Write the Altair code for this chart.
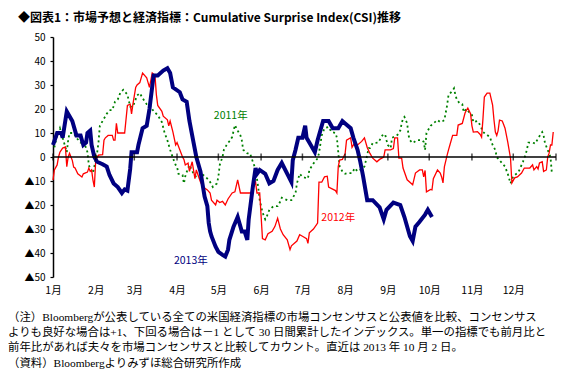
import altair as alt
import pandas as pd

# ---------------- data ----------------
month_labels = ["1月", "2月", "3月", "4月", "5月", "6月", "7月", "8月", "9月", "10月", "11月", "12月"]
month_start = [0, 31, 59, 90, 120, 151, 181, 212, 243, 273, 304, 334]
year_end = 365
y_ticks = [-50, -40, -30, -20, -10, 0, 10, 20, 30, 40, 50]

# 2013 (day of year, CSI)
day_2013 = [0, 3, 6, 7, 10, 14, 17, 20, 22, 24,
            25, 27, 28, 30, 32, 36, 39, 41, 44, 47,
            50, 52, 54, 56, 57, 61, 62, 65, 68, 70,
            73, 76, 80, 83, 85, 87, 92, 94, 97, 99,
            102, 104, 107, 109, 110, 112, 113, 114, 115, 118,
            120, 123, 125, 127, 128, 131, 134, 135, 137, 139,
            141, 142, 144, 145, 147, 148, 150, 154, 157, 160,
            163, 166, 170, 173, 174, 176, 178, 181, 183, 184,
            186, 190, 192, 196, 200, 203, 207, 210, 212, 216,
            218, 221, 223, 225, 228, 232, 237, 240, 242, 247,
            252, 255, 259, 261, 263, 266, 270, 272, 275]
val_2013 = [5, 10, 10, 8, 19, 15, 9, 9, 5, 6,
            10, 11, 5, 0, -2, -3, -4, -7.5, -11, -12.5,
            -15, -13.5, -14, -5, 2, 2, 5, 12, 13, 20,
            34, 34, 36, 37, 35, 29, 27, 24, 23, 15,
            6, 0, -6, -13, -16.5, -20.5, -27.5, -31, -33, -37.4,
            -39.5, -40.8, -41.5, -38.6, -34.5, -29, -25, -27, -31, -31,
            -34.5, -26, -17, -12.5, -4.6, -7, -5.4, -7, -11, -10,
            -5.4, -2.5, -7, -10.4, -1.3, 3, 8, 8, 13, 8,
            6, 2, 7, 15, 15, 12, 12, 15, 14, 12,
            8, 3, -2, -8, -18, -18, -21, -26, -22, -19,
            -20, -25, -33, -35, -29, -27, -24, -22, -25]

# 2012
day_2012 = [0, 1, 3, 4, 5, 7, 9, 10, 11, 12,
            14, 15, 16, 18, 21, 22, 25, 26, 27, 28,
            29, 30, 31, 33, 36, 37, 38, 40, 43, 44,
            45, 46, 47, 52, 54, 56, 57, 58, 60, 61,
            63, 65, 68, 69, 70, 72, 74, 75, 76, 79,
            80, 83, 84, 85, 87, 89, 90, 92, 94, 95,
            96, 98, 99, 101, 103, 104, 107, 109, 112, 114,
            115, 118, 119, 121, 123, 125, 127, 130, 132, 134,
            136, 143, 144, 147, 148, 150, 152, 154, 156, 159,
            161, 163, 165, 167, 170, 172, 173, 177, 179, 181,
            184, 185, 186, 189, 192, 193, 195, 197, 199, 200,
            205, 206, 207, 208, 210, 212, 213, 216, 217, 219,
            221, 224, 226, 228, 230, 232, 235, 237, 240, 241,
            245, 247, 248, 250, 251, 253, 254, 257, 261, 263,
            266, 268, 269, 270, 271, 274, 275, 276, 279, 281,
            282, 283, 284, 286, 287, 288, 290, 293, 294, 297,
            299, 300, 301, 303, 304, 305, 308, 310, 311, 312,
            313, 315, 317, 319, 320, 321, 322, 323, 324, 326,
            327, 328, 330, 332, 333, 335, 337, 340, 342, 346,
            348, 349, 351, 352, 353, 355, 356, 358, 359, 360,
            361, 362, 363]
val_2012 = [-9.6, -5.4, -3.3, 0, 2, 3.7, 4.2, -4, 0, 1.5,
            -1.4, -4.2, -4.6, -7, -8.3, -7, -6.3, -4.6, -6, -5.4,
            -9.6, -12.5, -1.3, 0.8, 1, 7, 8, 9, 9, 7,
            7, 14, 10, 10, 21.5, 22, 18, 22, 29, 30,
            31, 35, 33, 31, 29, 35, 34, 26, 21.5, 19,
            17, 15.5, 13, 15, 10.5, 5, 6, 3, 0, -1,
            -3.3, -2.5, -6, -2, -9, -5.4, -10.4, -12.5, -13.7, -15,
            -18, -20, -18, -19, -18.5, -20, -17.5, -15, -14.5, -9.5,
            -15, -15, -14.5, -10.4, -15, -15, -34, -34.5, -32, -31,
            -29, -25.5, -30, -32.4, -34.5, -38.6, -37, -35, -32.4, -33,
            -34, -36, -31.6, -30, -27.5, -10.5, -10.5, -8.3, -8, -12.5,
            -14, -15, -4, -1.3, -1, 1.5, 7, 8, 4, 6,
            5, 6.5, 8, 4, 1.5, -0.5, -2, -1, 0, 3,
            3, 3.5, 8, 8, -0.5, -0.5, -4.6, -9.5, -11.6, -6.7,
            -5.4, -5.4, -8.3, -5.6, -14.5, -13.5, -13.7, -9, -5.4, -6.7,
            -8.3, -10.8, -4.1, 0.8, 3, 5, 9, 9, 13.3, 14,
            18.3, 19.5, 20.4, 18, 13, 10.4, 10.6, 9.4, 8.3, 16,
            25, 26.6, 26.6, 21.6, 15.4, 10.4, 9, 11, 15.4, 15,
            13.5, 12, 6.2, -0.5, -10.8, -8.7, -8.3, -6.7, -4.6, -4.6,
            -3.3, -5.4, -4, -5, -2.5, -2, -6, -5.4, 0, 1.6,
            5, 5, 10.4]

# 2011
day_2011 = [1, 3, 5, 7, 9, 10, 11, 12, 15, 17,
            20, 22, 25, 26, 27, 29, 32, 33, 34, 36,
            39, 41, 43, 45, 47, 49, 51, 54, 56, 58,
            61, 63, 65, 68, 70, 73, 76, 79, 81, 83,
            85, 87, 89, 90, 91, 94, 95, 96, 98, 99,
            102, 104, 107, 109, 112, 114, 116, 119, 120, 121,
            123, 124, 126, 128, 130, 132, 134, 136, 137, 138,
            141, 143, 145, 147, 148, 149, 150, 152, 154, 155,
            157, 160, 163, 165, 166, 170, 173, 176, 177, 179,
            181, 185, 186, 189, 192, 193, 195, 197, 200, 202,
            205, 206, 207, 208, 210, 212, 214, 217, 219, 221,
            224, 226, 228, 229, 230, 232, 236, 239, 241, 242,
            243, 245, 246, 250, 251, 252, 253, 254, 255, 257,
            258, 259, 261, 264, 268, 269, 270, 271, 274, 276,
            279, 281, 283, 284, 286, 287, 290, 291, 292, 293,
            295, 297, 298, 300, 303, 304, 305, 308, 310, 312,
            315, 317, 319, 321, 322, 328, 330, 332, 334, 337,
            338, 341, 343, 345, 348, 350, 352, 355, 356, 357,
            361, 362]
val_2011 = [4, 9, 12, 8, 4, 2, 7, 10, 10, 8,
            6, 7, 2, -3.3, -5, -6.7, 1.6, 6, 13, 15,
            18, 19.5, 19.5, 23, 24, 27, 28, 26, 21, 21,
            25.6, 26.6, 24.5, 22, 22, 19, 17.5, 14.5, 10, 7,
            3, -0.4, -3.3, -4, -7, -7.5, -11, -8, -4.6, -3.3,
            -7, -8.3, -9, -7.5, -9, -10.4, -12.5, -11, -8.3, -3.3,
            0, 3, 5, 6.6, 8.3, 13.3, 11, 9, 7, 3,
            1.5, 1.5, -2, -5, -9, -13, -18, -23, -26, -25,
            -22, -20.5, -20.5, -18.5, -17, -18, -18, -15, -11, -7,
            -8.3, -9, -5.4, -2.7, -0.6, 1.5, 9, 12, 12.5, 10.4,
            10, 8, 2, -4, -6, -7, -6.7, -6.7, -4.6, -6,
            -5, -4, 0.8, 3.7, 3.7, 5.8, 6, 9, 9.5, 7,
            5, 3.7, 8, 9.2, 10.4, 11, 14, 16, 16.7, 14,
            9, 7, 5.8, 7, 7, 6.3, 2.9, 10, 13, 14,
            15.4, 14.5, 15, 15.4, 21.6, 25.8, 27.7, 28.6, 25.8, 24,
            22.4, 22, 18.7, 20, 18, 17.5, 14.5, 15, 13.3, 10.4,
            9.2, 8.3, 5, 2.9, 0, -4, -7, -11, -8, -6.7,
            -6, -2, 1, 6, 6, 5.6, 7.8, 10.4, 9, 5.8,
            0, -6.7]

series_labels = ["2011年", "2012年", "2013年"]
series_label_day = [129, 207, 100]
series_label_val = [17, -25.4, -43.2]
series_colors = ["#008000", "#FF0000", "#000080"]

title_text = "◆図表1：市場予想と経済指標：Cumulative Surprise Index(CSI)推移"
note_lines = [
    "（注）Bloombergが公表している全ての米国経済指標の市場コンセンサスと公表値を比較、コンセンサス",
    "よりも良好な場合は+1、下回る場合は－1 として 30 日間累計したインデックス。単一の指標でも前月比と",
    "前年比があれば夫々を市場コンセンサスと比較してカウント。直近は 2013 年 10 月 2 日。",
    "（資料）Bloombergよりみずほ総合研究所作成",
]

# ---------------- chart ----------------
JP = "Noto Sans CJK JP"
SERIF = "'Liberation Serif', 'Noto Sans CJK JP'"

W, H = 503, 240

x_scale = alt.Scale(domain=[0, year_end], nice=False, zero=False)
y_scale = alt.Scale(domain=[-50, 50], nice=False, zero=False)

label_arr = "[" + ",".join("'%s'" % m for m in month_labels) + "]"
start_arr = "[" + ",".join(str(s) for s in month_start) + "]"
x_axis = alt.Axis(
    values=month_start,
    labelExpr=f"{label_arr}[indexof({start_arr}, datum.value)]",
    domain=False, ticks=False, grid=False, title=None,
    labelFont=JP, labelFontSize=10.5, labelColor="black",
    labelPadding=8, labelFlush=False, labelOverlap=False,
)
y_axis = alt.Axis(
    values=y_ticks,
    labelExpr="datum.value < 0 ? '▲' + abs(datum.value) : '' + datum.value",
    domain=True, domainColor="black", domainWidth=1.5,
    ticks=True, tickColor="black", tickSize=3, tickWidth=1.2,
    grid=False, title=None,
    labelFont=JP, labelFontSize=10, labelColor="black",
    labelPadding=5, labelFlush=False, labelOverlap=False,
)

X = alt.X("day:Q", scale=x_scale, axis=x_axis)
Y = alt.Y("value:Q", scale=y_scale, axis=y_axis)

df11 = pd.DataFrame({"day": day_2011, "value": val_2011})
df12 = pd.DataFrame({"day": day_2012, "value": val_2012})
df13 = pd.DataFrame({"day": day_2013, "value": val_2013})

line11 = alt.Chart(df11).mark_line(
    color="#008000", strokeWidth=1.8, strokeDash=[2, 3]
).encode(x=X, y=Y)
line12 = alt.Chart(df12).mark_line(color="#FF0000", strokeWidth=1.3).encode(x=X, y=Y)
line13 = alt.Chart(df13).mark_line(color="#000080", strokeWidth=4).encode(x=X, y=Y)

zero_rule = alt.Chart(pd.DataFrame({"value": [0]})).mark_rule(
    color="black", strokeWidth=1.5
).encode(y=Y)

tick_df = pd.DataFrame({"day": month_start + [year_end], "value": [0] * (len(month_start) + 1)})
month_ticks = alt.Chart(tick_df).mark_tick(
    orient="vertical", size=7, thickness=1.5, color="black"
).encode(x=X, y=Y)

lab_df = pd.DataFrame({
    "day": series_label_day, "value": series_label_val,
    "label": series_labels, "col": series_colors,
})
labels = alt.Chart(lab_df).mark_text(font=JP, fontSize=10.5).encode(
    x=X, y=Y, text="label:N", color=alt.Color("col:N", scale=None, legend=None)
)

title = alt.Chart(pd.DataFrame({"t": [title_text]})).mark_text(
    align="left", baseline="alphabetic", font=JP, fontSize=12, fontWeight="bold",
    color="black", x=-35, y=-15,
).encode(text="t:N")

note_y = [281, 296, 311, 327]
notes = []
for txt, yy in zip(note_lines, note_y):
    notes.append(
        alt.Chart(pd.DataFrame({"t": [txt]})).mark_text(
            align="left", baseline="middle", font=SERIF, fontSize=11.4,
            color="black", x=-45, y=yy,
        ).encode(text="t:N")
    )

chart = alt.layer(
    line11, line12, line13, zero_rule, month_ticks, labels, title, *notes
).properties(
    width=W, height=H,
    autosize=alt.AutoSizeParams(type="none"),
    padding={"left": 45, "top": 29, "right": 16, "bottom": 97},
    background="white",
).configure_view(stroke=None)

chart.save("out.html", embed_options={"renderer": "svg", "actions": False})
